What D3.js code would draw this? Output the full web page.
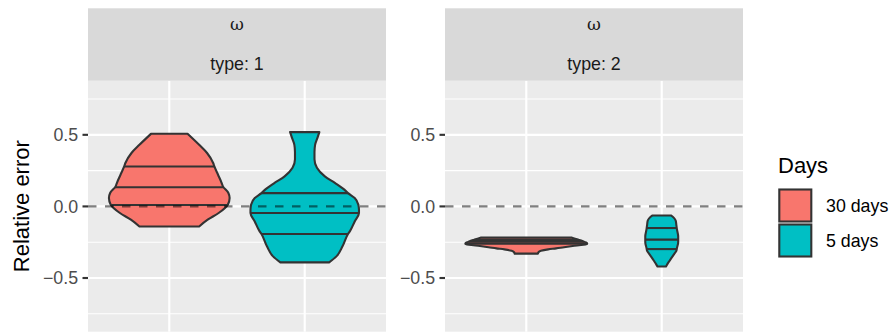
<!DOCTYPE html>
<html>
<head>
<meta charset="utf-8">
<script src="https://cdn.jsdelivr.net/npm/d3@7"></script>
<style>
  html, body { margin: 0; padding: 0; background: #fff; }
  svg { display: block; }
  text { font-family: "Liberation Sans", Arial, Helvetica, sans-serif; }
</style>
</head>
<body>
<svg id="chart" width="896" height="332"></svg>
<script>
// ---------------- data ----------------
const panelLabels = ["type: 1", "type: 2"];
const stripSymbol = "ω";
const dayCategories = ["30 days", "5 days"];
const legendTitle = "Days";
const yTitle = "Relative error";
const yTickValues = [-0.5, 0, 0.5];
const yTickLabels = ["\u22120.5", "0.0", "0.5"];
const yMinorValues = [-0.75, -0.25, 0.25, 0.75];
const refLineValue = 0;

// violin profiles: value -> relative density width (1 = widest violin)
const type1_30days_values = [0.507, 0.43, 0.373, 0.303, 0.279, 0.221, 0.163, 0.14, 0.094, 0.059, 0.012, -0.046, -0.093, -0.14];
const type1_30days_widths = [0.30, 0.49, 0.62, 0.72, 0.74, 0.80, 0.86, 0.88, 0.97, 0.99, 0.96, 0.81, 0.63, 0.49];
const type1_30days_quantiles = [0.279, 0.134, 0.01];

const type1_5days_values = [0.519, 0.48, 0.43, 0.38, 0.33, 0.27, 0.21, 0.163, 0.117, 0.093, 0.059, 0.012, -0.023, -0.046, -0.105, -0.174, -0.193, -0.279, -0.349, -0.391];
const type1_5days_widths = [0.24, 0.21, 0.17, 0.16, 0.16, 0.20, 0.33, 0.50, 0.65, 0.71, 0.82, 0.88, 0.89, 0.89, 0.82, 0.74, 0.71, 0.62, 0.52, 0.40];
const type1_5days_quantiles = [0.093, -0.046, -0.193];

const type2_30days_values = [-0.218, -0.225, -0.232, -0.242, -0.252, -0.26, -0.268, -0.277, -0.285, -0.293, -0.30, -0.31, -0.32, -0.33];
const type2_30days_widths = [0.75, 0.80, 0.85, 0.92, 0.98, 1.0, 0.94, 0.76, 0.62, 0.49, 0.36, 0.24, 0.20, 0.19];
const type2_30days_quantiles = [-0.234, -0.247, -0.26];

const type2_5days_values = [-0.063, -0.08, -0.10, -0.13, -0.16, -0.21, -0.25, -0.29, -0.31, -0.335, -0.36, -0.385, -0.405, -0.42];
const type2_5days_widths = [0.15, 0.20, 0.23, 0.24, 0.25, 0.27, 0.27, 0.25, 0.24, 0.20, 0.16, 0.12, 0.09, 0.07];
const type2_5days_quantiles = [-0.151, -0.232, -0.298];

// ---------------- styles / layout ----------------
const fillColors = ["#F8766D", "#00BFC4"];
const panelBox = [{x0: 88, x1: 386}, {x0: 445, x1: 743}];
const stripTop = 8.3, panelTop = 80.7, panelBottom = 331.7;
const fs = 17.8;

const violins = [
  [
    {values: type1_30days_values, widths: type1_30days_widths, q: type1_30days_quantiles},
    {values: type1_5days_values, widths: type1_5days_widths, q: type1_5days_quantiles}
  ],
  [
    {values: type2_30days_values, widths: type2_30days_widths, q: type2_30days_quantiles},
    {values: type2_5days_values, widths: type2_5days_widths, q: type2_5days_quantiles}
  ]
];

const svg = d3.select("#chart");
svg.append("rect").attr("width", 896).attr("height", 332).attr("fill", "#fff");

const y = d3.scaleLinear().domain([-0.875, 0.878]).range([panelBottom, panelTop]);

function interpWidth(vals, ws, v) {
  for (let i = 0; i < vals.length - 1; i++) {
    const a = vals[i], b = vals[i + 1];
    if ((v <= a && v >= b)) {
      const t = (a - v) / (a - b);
      return ws[i] + t * (ws[i + 1] - ws[i]);
    }
  }
  return 0;
}

panelLabels.forEach((lab, pi) => {
  const pb = panelBox[pi];
  const x = d3.scalePoint().domain(dayCategories).range([pb.x0, pb.x1]).padding(0.6);
  const maxHalf = 0.45 * x.step();
  const g = svg.append("g");

  // panel background
  g.append("rect").attr("x", pb.x0).attr("y", panelTop)
    .attr("width", pb.x1 - pb.x0).attr("height", panelBottom - panelTop)
    .attr("fill", "#EBEBEB");

  // minor gridlines
  g.selectAll(".minor").data(yMinorValues).enter().append("line")
    .attr("x1", pb.x0).attr("x2", pb.x1)
    .attr("y1", d => y(d)).attr("y2", d => y(d))
    .attr("stroke", "#fff").attr("stroke-width", 1.07);
  // major gridlines
  g.selectAll(".major").data(yTickValues).enter().append("line")
    .attr("x1", pb.x0).attr("x2", pb.x1)
    .attr("y1", d => y(d)).attr("y2", d => y(d))
    .attr("stroke", "#fff").attr("stroke-width", 2.13);
  g.selectAll(".vmajor").data(dayCategories).enter().append("line")
    .attr("x1", d => x(d)).attr("x2", d => x(d))
    .attr("y1", panelTop).attr("y2", panelBottom)
    .attr("stroke", "#fff").attr("stroke-width", 2.13);

  // violins
  dayCategories.forEach((cat, ci) => {
    const vd = violins[pi][ci];
    const cx = x(cat);
    const pts = vd.values.map((v, i) => ({v, w: vd.widths[i]}));
    const area = d3.area()
      .curve(d3.curveMonotoneY)
      .y(d => y(d.v))
      .x0(d => cx - d.w * maxHalf)
      .x1(d => cx + d.w * maxHalf);
    g.append("path").attr("d", area(pts))
      .attr("fill", fillColors[ci]).attr("stroke", "#333333")
      .attr("stroke-width", 2.1).attr("stroke-linejoin", "round");
    vd.q.forEach(qv => {
      const hw = interpWidth(vd.values, vd.widths, qv) * maxHalf;
      g.append("line")
        .attr("x1", cx - hw).attr("x2", cx + hw)
        .attr("y1", y(qv)).attr("y2", y(qv))
        .attr("stroke", "#333333").attr("stroke-width", 2.1);
    });
  });

  // reference dashed line
  g.append("line").attr("x1", pb.x0).attr("x2", pb.x1)
    .attr("y1", y(refLineValue)).attr("y2", y(refLineValue))
    .attr("stroke", "#000").attr("stroke-opacity", 0.5)
    .attr("stroke-width", 2.13).attr("stroke-dasharray", "8.5,8.5");

  // y axis ticks + labels
  yTickValues.forEach((t, i) => {
    g.append("line").attr("x1", pb.x0 - 5.5).attr("x2", pb.x0)
      .attr("y1", y(t)).attr("y2", y(t))
      .attr("stroke", "#333333").attr("stroke-width", 2.13);
    g.append("text").attr("x", pb.x0 - 5.5 - 4.4).attr("y", y(t))
      .attr("dy", "0.36em").attr("text-anchor", "end")
      .attr("font-size", fs).attr("fill", "#4D4D4D").text(yTickLabels[i]);
  });

  // strip
  g.append("rect").attr("x", pb.x0).attr("y", stripTop)
    .attr("width", pb.x1 - pb.x0).attr("height", panelTop - stripTop)
    .attr("fill", "#D9D9D9");
  const cxp = (pb.x0 + pb.x1) / 2;
  g.append("text").attr("x", cxp).attr("y", 30)
    .attr("text-anchor", "middle").attr("font-size", 17)
    .style("font-family", "'DejaVu Serif', 'Liberation Serif', serif")
    .attr("fill", "#1A1A1A").text(stripSymbol);
  g.append("text").attr("x", cxp).attr("y", 70)
    .attr("text-anchor", "middle").attr("font-size", fs)
    .attr("fill", "#1A1A1A").text(lab);
});

// y axis title
svg.append("text")
  .attr("transform", `translate(29,${(panelTop + panelBottom) / 2}) rotate(-90)`)
  .attr("text-anchor", "middle").attr("font-size", 22).attr("fill", "#000")
  .text(yTitle);

// legend
const lg = svg.append("g");
lg.append("text").attr("x", 778).attr("y", 173).attr("font-size", 22)
  .attr("fill", "#000").text(legendTitle);
const keySize = 34;
dayCategories.forEach((cat, i) => {
  const ky = 188.5 + i * 35;
  lg.append("rect").attr("x", 779.3).attr("y", ky + 1)
    .attr("width", keySize - 2).attr("height", keySize - 2)
    .attr("fill", fillColors[i]).attr("stroke", "#333333").attr("stroke-width", 2.1);
  lg.append("text").attr("x", 826).attr("y", ky + keySize / 2)
    .attr("dy", "0.36em").attr("font-size", fs).attr("fill", "#000").text(cat);
});
</script>
</body>
</html>
